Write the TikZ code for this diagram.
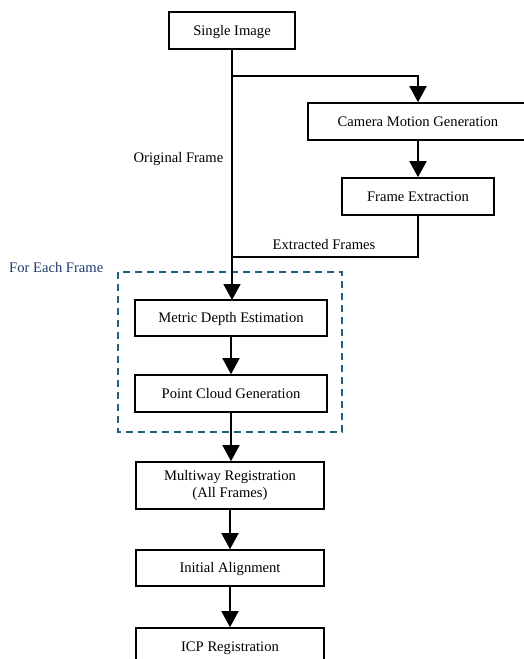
\documentclass[tikz,border=0pt]{standalone}
\usepackage{fontspec}
\setmainfont{Liberation Serif}
\usetikzlibrary{arrows.meta}
\definecolor{dashblue}{HTML}{1F5F7F}
\definecolor{labelblue}{HTML}{1F3A6E}
\begin{document}
\begin{tikzpicture}[x=1pt,y=-1pt,
  box/.style={draw=black,line width=1.6pt,fill=white,inner sep=0pt,align=center,
    font=\fontsize{14.6}{16.5}\selectfont},
  onebox/.style={box,text height=9pt,text depth=0pt},
  conn/.style={line width=1.6pt,draw=black},
  arr/.style={conn,-{Triangle[width=17pt,length=16pt]}},
  lbl/.style={font=\fontsize{14.6}{16.5}\selectfont,inner sep=0pt}]
\useasboundingbox (0,0) rectangle (524,659);
\node[onebox,minimum width=126pt,minimum height=37pt] (single) at (232,30.5) {Single Image};
\node[onebox,minimum width=220pt,minimum height=37pt] (camera) at (418,121.5) {Camera Motion Generation};
\node[onebox,minimum width=152pt,minimum height=37pt] (extract) at (418,196.5) {Frame Extraction};
\draw[dashblue,line width=1.5pt,dash pattern=on 7pt off 5pt] (118,272) rectangle (342,432);
\node[lbl,text=labelblue,anchor=west] (each) at (9,268) {For Each Frame};
\node[onebox,minimum width=192pt,minimum height=36pt] (depth) at (231,318) {Metric Depth Estimation};
\node[onebox,minimum width=192pt,minimum height=37pt] (cloud) at (231,393.5) {Point Cloud Generation};
\node[box,minimum width=188pt,minimum height=47pt] (multi) at (230,485.5) {Multiway Registration\\(All Frames)};
\node[onebox,minimum width=188pt,minimum height=36pt] (align) at (230,568) {Initial Alignment};
\node[onebox,minimum width=188pt,minimum height=37pt] (icp) at (230,646.5) {ICP Registration};
\coordinate (branch) at (232,76);
\coordinate (join) at (232,257);
\coordinate (corner) at (418,257);
\node[lbl] (orig) at (178.5,159) {Original Frame};
\node[lbl] (extl) at (324,245) {Extracted Frames};
\draw[arr] (single.south) -- (232,300);
\draw[arr] (branch) -| (camera.north);
\draw[arr] (camera) -- (extract);
\draw[conn] (extract.south) -- (corner) -- (join);
\draw[arr] (depth) -- (cloud);
\draw[arr] (cloud.south) -- (multi.north -| cloud.south);
\draw[arr] (multi) -- (align);
\draw[arr] (align) -- (icp);
\end{tikzpicture}
\end{document}
